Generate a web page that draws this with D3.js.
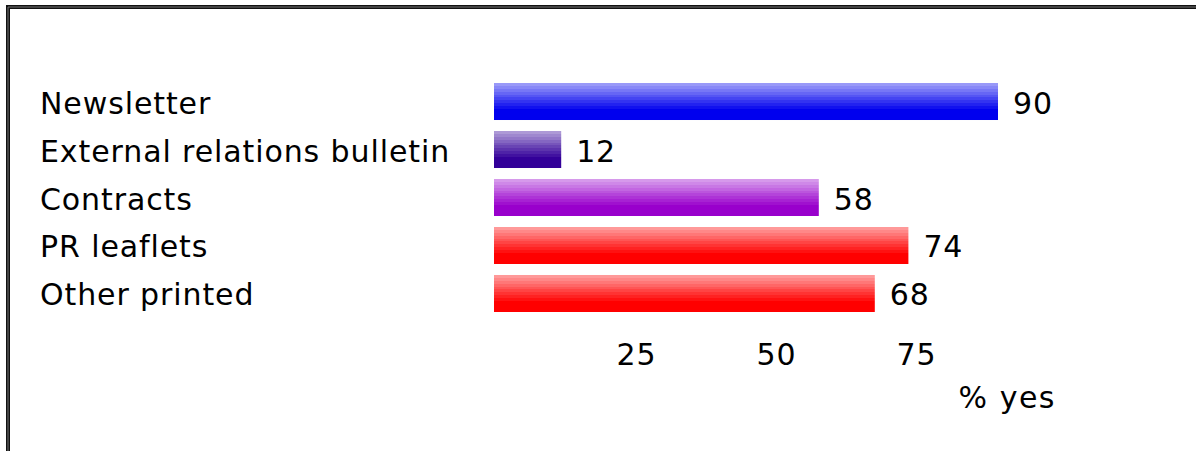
<!DOCTYPE html>
<html>
<head>
<meta charset="utf-8">
<script src="https://cdn.jsdelivr.net/npm/d3@7/dist/d3.min.js"></script>
<style>
  body { margin: 0; background: #fff; }
  svg text { font-family: "DejaVu Sans", Verdana, sans-serif; fill: #000; }
</style>
</head>
<body>
<svg id="chart" width="1196" height="451"></svg>
<script>
// data
const categories = ['Newsletter', 'External relations bulletin', 'Contracts', 'PR leaflets', 'Other printed']
const values = [90, 12, 58, 74, 68]
const barColors = ['#0000ee', '#330099', '#9900cc', '#ff0000', '#ff0000']
const tickValues = [25, 50, 75]
const axisTitle = '% yes'

const svg = d3.select('#chart')
const W = 1196, H = 451

svg.append('rect').attr('width', W).attr('height', H).attr('fill', '#fff')

// frame (open on right and bottom)
svg.append('path')
    .attr('d', `M8,${H + 10} V7 H${W + 10}`)
    .attr('fill', 'none').attr('stroke', '#111').attr('stroke-width', 4)
svg.append('path')
    .attr('d', `M8,${H + 10} V7 H${W + 10}`)
    .attr('fill', 'none').attr('stroke', '#777').attr('stroke-width', 1)

const x = d3.scaleLinear().domain([0, 90]).range([494, 998])
const y = d3.scaleBand().domain(categories).range([83, 312]).paddingInner(0.229)

// banded gradients, light on top to full colour at the bottom
const defs = svg.append('defs')
barColors.forEach((c, i) => {
    const g = defs.append('linearGradient')
        .attr('id', `grad-${i}`)
        .attr('x1', 0).attr('y1', 0).attr('x2', 0).attr('y2', 1)
    const light = d3.interpolateRgb(c, '#fff')(0.6)
    const steps = 10
    for (let s = 0; s < steps; ++s) {
        const col = d3.interpolateRgb(light, c)(s / (steps - 1))
        const t0 = s / steps * 0.78
        const t1 = (s + 1) / steps * 0.78
        g.append('stop').attr('offset', t0).attr('stop-color', col)
        g.append('stop').attr('offset', s == steps - 1 ? 1 : t1).attr('stop-color', col)
    }
})

const rows = svg.append('g').selectAll('g')
    .data(categories)
    .join('g')

rows.append('rect')
    .attr('x', x(0))
    .attr('y', d => y(d))
    .attr('width', (d, i) => x(values[i]) - x(0))
    .attr('height', y.bandwidth())
    .attr('fill', (d, i) => `url(#grad-${i})`)

rows.append('text')
    .attr('x', 40)
    .attr('y', d => y(d) + y.bandwidth() / 2 + 12)
    .attr('font-size', 30)
    .attr('letter-spacing', 0.9)
    .text(d => d)

rows.append('text')
    .attr('x', (d, i) => x(values[i]) + 15)
    .attr('y', d => y(d) + y.bandwidth() / 2 + 12)
    .attr('font-size', 30)
    .attr('letter-spacing', 0.8)
    .text((d, i) => values[i])

// x axis: labels only
const axis = svg.append('g')
    .attr('transform', 'translate(2,344)')
    .call(d3.axisBottom(x).tickValues(tickValues).tickSize(0).tickPadding(0))
axis.select('.domain').remove()
axis.selectAll('text')
    .attr('font-size', 30)
    .attr('letter-spacing', 0.8)
    .attr('font-family', '"DejaVu Sans", Verdana, sans-serif')
    .attr('fill', '#000')

svg.append('text')
    .attr('x', 1056)
    .attr('y', 408)
    .attr('text-anchor', 'end')
    .attr('font-size', 30)
    .attr('letter-spacing', 1.5)
    .text(axisTitle)
</script>
</body>
</html>
